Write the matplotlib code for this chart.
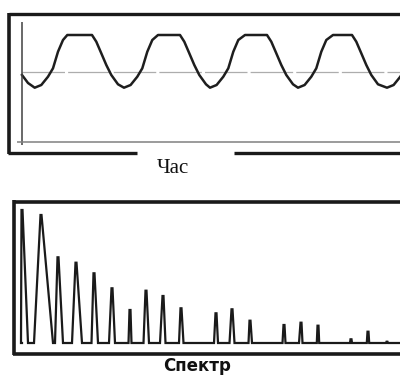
import matplotlib
matplotlib.use("Agg")
import matplotlib.pyplot as plt
from matplotlib.lines import Line2D

# ---- data: time-domain waveform ----
wave_t = [0, 6, 12.7, 19.3, 26, 31, 36, 41, 45.3, 70, 74.3, 79.3, 84.3, 89.3, 96, 102,
          108.6, 115.3, 120.3, 125.3, 130.3, 136, 158, 162.3, 167.3, 172.3, 177.3, 184, 188,
          194.6, 201.3, 206.3, 211.3, 216.3, 223, 245, 249.3, 254.3, 259.3, 264.3, 271, 276,
          282.6, 289.3, 294.3, 299.3, 304.3, 311, 330, 334.3, 339.3, 344.3, 349.3, 356, 365,
          371.6, 378.3, 383.3]
wave_v = [67, 59, 54.3, 57, 65.3, 73.7, 90.3, 102, 107, 107, 100.3, 88.7, 77, 67, 57.7, 54.3,
          57, 65.3, 73.7, 90.3, 102, 107, 107, 100.3, 88.7, 77, 67, 57.7, 54.3,
          57, 65.3, 73.7, 90.3, 102, 107, 107, 100.3, 88.7, 77, 67, 57.7, 54.3,
          57, 65.3, 73.7, 90.3, 102, 107, 107, 100.3, 88.7, 77, 67, 57.7, 54.3,
          57, 65.3, 73.7]
mean_level = 70

# ---- data: spectrum peaks ----
peak_pos = [0, 19, 36, 54, 72, 90, 108, 124, 141, 159, 194, 210, 228, 262, 279, 296, 329, 346, 365]
peak_h = [133, 128, 85.7, 80.3, 69.7, 54.7, 33, 52.3, 47, 34.7, 29.7, 33.7, 22.3, 18, 20.3, 17.3, 3.7, 11.3, 1.3]
peak_wl = [1, 7, 3, 4, 2.5, 3, 1.5, 2.5, 3, 2, 2, 2.5, 1.5, 1.5, 2, 1.2, 1, 1.2, 1]
peak_wr = [6, 12, 5, 6, 4, 3, 1.5, 3, 2.5, 2.5, 2, 2.5, 2, 1.5, 1.5, 1.2, 1, 1.2, 1]

time_label = "Час"
spec_label = "Спектр"

W, H = 400, 380
fig = plt.figure(figsize=(4, 3.8), dpi=100)
fig.patch.set_facecolor("white")

def fx(px):
    return px / W

def fy(py):
    return 1 - py / H

def fline(xs, ys, lw, color="black"):
    fig.add_artist(Line2D([fx(x) for x in xs], [fy(y) for y in ys], lw=lw,
                          color=color, transform=fig.transFigure, solid_capstyle="butt"))

# ---- top panel ----
ax1 = fig.add_axes([fx(22), fy(142), 378 / W, 120 / H])
ax1.set_xlim(0, 378)
ax1.set_ylim(0, 120)
ax1.axis("off")
ax1.axhline(mean_level, color="0.68", lw=0.9, ls=(0, (34, 2.5)))
ax1.plot(wave_t, wave_v, color="#1e1e1e", lw=1.8, solid_joinstyle="round", clip_on=False)

# axes lines
fline([22, 22], [22, 145], 1.1, "0.25")
fline([17, 400], [142, 142], 1.1, "0.5")
# frame
fline([9, 402], [13.5, 13.5], 2.4, "0.1")
fline([9, 9], [12.5, 154], 2.6, "0.1")
fline([8, 137], [153, 153], 2.4, "0.1")
fline([234, 402], [153, 153], 2.4, "0.1")

fig.text(fx(173), fy(168), time_label, ha="center", va="center",
         family=["Liberation Serif", "DejaVu Serif"], fontsize=15, color="#111111")

# ---- bottom panel ----
ax2 = fig.add_axes([fx(22), fy(343), 378 / W, 142 / H])
ax2.set_xlim(0, 378)
ax2.set_ylim(0, 142)
ax2.axis("off")
xs, ys = [0], [0]
for p, h, wl, wr in zip(peak_pos, peak_h, peak_wl, peak_wr):
    xs += [p - wl, p - 0.5, p + 0.5, p + wr]
    ys += [0, h, h, 0]
xs.append(380)
ys.append(0)
ax2.plot(xs, ys, color="#1a1a1a", lw=1.6, solid_joinstyle="miter", clip_on=False)

# frame
fline([13, 402], [201.5, 201.5], 2.6, "0.1")
fline([14, 14], [200, 354.5], 2.6, "0.1")
fline([13, 402], [353.5, 353.5], 2.6, "0.1")

fig.text(fx(197), fy(366), spec_label, ha="center", va="center",
         family=["DejaVu Sans"], fontweight="bold", fontsize=12, color="#111111")

fig.savefig("out.png", dpi=100, facecolor="white")
